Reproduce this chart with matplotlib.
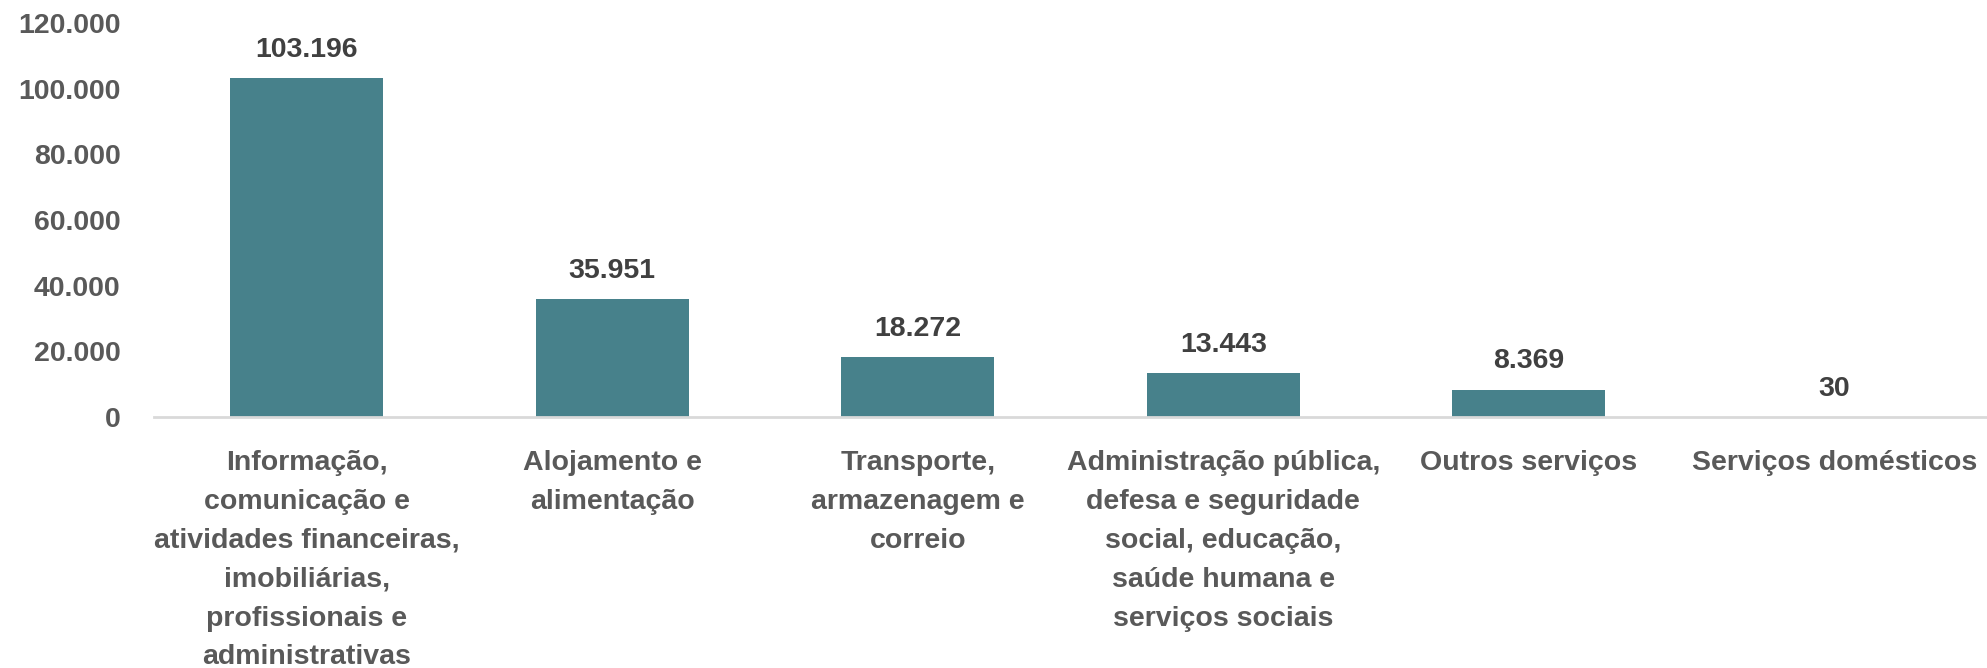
import matplotlib.pyplot as plt
from matplotlib.ticker import FuncFormatter

# data
categories = [
    'Informação,\ncomunicação e\natividades financeiras,\nimobiliárias,\nprofissionais e\nadministrativas',
    'Alojamento e\nalimentação',
    'Transporte,\narmazenagem e\ncorreio',
    'Administração pública,\ndefesa e seguridade\nsocial, educação,\nsaúde humana e\nserviços sociais',
    'Outros serviços',
    'Serviços domésticos',
]
values = [103196, 35951, 18272, 13443, 8369, 30]

def br(v):
    return f'{v:,.0f}'.replace(',', '.')

plt.rcParams['font.family'] = ['Liberation Sans', 'DejaVu Sans']

fig = plt.figure(figsize=(19.87, 6.68), dpi=100)
ax = fig.add_axes([0.0775, 0.3757, 0.9225, 0.5898])

x = range(len(values))
bars = ax.bar(x, values, width=0.5, color='#47818B')
ax.set_xlim(-0.5, len(values) - 0.5)
ax.set_ylim(0, 120000)
ax.set_yticks(range(0, 120001, 20000))
ax.yaxis.set_major_formatter(FuncFormatter(lambda v, p: br(v)))

for b, v in zip(bars, values):
    ax.annotate(br(v), (b.get_x() + b.get_width() / 2, v), xytext=(0, 11),
                textcoords='offset points', ha='center', va='bottom',
                fontsize=20.5, fontweight='bold', color='#404040')

ax.set_xticks(list(x))
ax.set_xticklabels(categories, fontsize=20.5, fontweight='bold', color='#595959',
                   linespacing=1.64, va='top')
ax.tick_params(axis='x', length=0, pad=24)
ax.tick_params(axis='y', length=0, pad=24, labelsize=20.5, labelcolor='#595959')
for lbl in ax.get_yticklabels():
    lbl.set_fontweight('bold')

for s in ['top', 'right', 'left']:
    ax.spines[s].set_visible(False)
ax.spines['bottom'].set_color('#D9D9D9')
ax.spines['bottom'].set_linewidth(2)

fig.savefig('out.png', dpi=100)
